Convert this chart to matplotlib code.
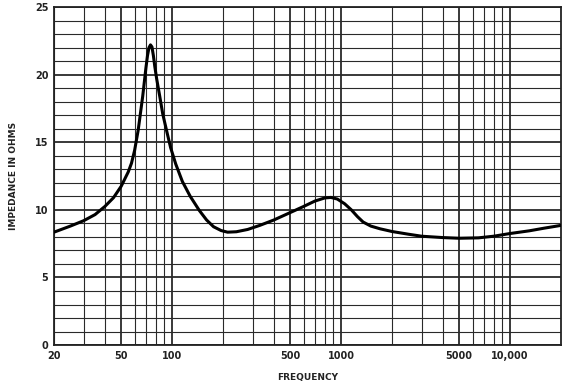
import numpy as np
import matplotlib
matplotlib.use("Agg")
from matplotlib import pyplot as plt
from matplotlib.ticker import FixedLocator, NullFormatter

# impedance curve
freq = [20, 25, 30, 35, 40, 45, 50, 55, 57.5, 60, 63, 67, 70, 71.5, 73, 74.5, 76,
        77.5, 79, 81, 84.5, 88, 93, 98, 105, 115, 128, 145, 160, 176, 195, 213, 240,
        280, 330, 400, 500, 600, 700, 800, 870, 950, 1050, 1150, 1250, 1350, 1500,
        1700, 2000, 2500, 3000, 4000, 5000, 6500, 8000, 10000, 13000, 16000, 20000]
impedance = [8.35, 8.8, 9.2, 9.65, 10.25, 10.9, 11.75, 12.8, 13.45, 14.4, 15.9,
             18.4, 20.5, 21.4, 22.0, 22.2, 22.05, 21.4, 20.6, 19.7, 18.4, 17.1, 15.8,
             14.6, 13.4, 12.1, 11.0, 9.95, 9.25, 8.75, 8.47, 8.35, 8.38, 8.55, 8.85,
             9.25, 9.8, 10.25, 10.65, 10.88, 10.92, 10.8, 10.45, 10.0, 9.5, 9.1, 8.8,
             8.6, 8.4, 8.2, 8.05, 7.95, 7.9, 7.93, 8.05, 8.25, 8.45, 8.65, 8.85]

x_ticks = [20, 50, 100, 500, 1000, 5000, 10000]
x_labels = ["20", "50", "100", "500", "1000", "5000", "10,000"]
y_ticks = [0, 5, 10, 15, 20, 25]

# grid lines: every decade step, heavier at 1/5/10
minor_x = [m * 10 ** d for d in range(1, 5) for m in range(1, 10) if 20 <= m * 10 ** d <= 20000]
heavy_x = [50, 100, 500, 1000, 5000, 10000]

fig = plt.figure(figsize=(5.66, 3.83), dpi=100)
ax = fig.add_axes([0.0954, 0.099, 0.8956, 0.8827])
ax.set_xscale("log")
ax.set_xlim(20, 20000)
ax.set_ylim(0, 25)

for f in minor_x:
    lw = 1.3 if f in heavy_x else 0.8
    ax.axvline(f, color="#2a2a2a", lw=lw, zorder=1)
for v in range(0, 26):
    lw = 1.3 if v % 5 == 0 else 0.8
    ax.axhline(v, color="#2a2a2a", lw=lw, zorder=1)

ax.plot(freq, impedance, color="black", lw=2.2, solid_capstyle="round",
        solid_joinstyle="round", zorder=3)

ax.xaxis.set_major_locator(FixedLocator(x_ticks))
ax.xaxis.set_minor_locator(FixedLocator([]))
ax.xaxis.set_minor_formatter(NullFormatter())
ax.set_xticks(x_ticks)
ax.set_xticklabels(x_labels)
ax.set_yticks(y_ticks)
ax.tick_params(length=0, labelsize=7, pad=4)
for lab in ax.get_xticklabels() + ax.get_yticklabels():
    lab.set_fontweight("bold")
    lab.set_color("#222222")

for s in ax.spines.values():
    s.set_linewidth(1.3)
    s.set_color("#222222")

ax.set_xlabel("FREQUENCY", fontsize=6.5, fontweight="bold", color="#222222", labelpad=9)
ax.set_ylabel("IMPEDANCE IN OHMS", fontsize=6.5, fontweight="bold", color="#222222", labelpad=12)

plt.savefig("out.png", dpi=100)
plt.close()
